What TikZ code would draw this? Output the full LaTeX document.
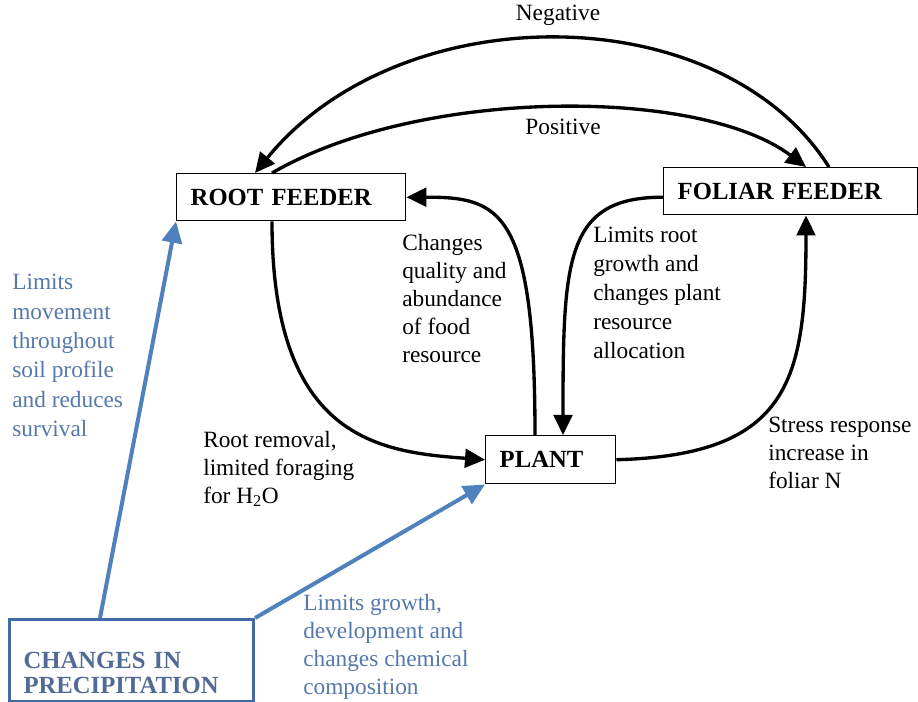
\documentclass[tikz,border=0pt]{standalone}
\usepackage{fontspec}
\setmainfont{Liberation Serif}
\usetikzlibrary{positioning}
\usetikzlibrary{arrows.meta}
\usetikzlibrary{calc}
\tikzset{>={Triangle[length=15pt,width=14pt]}}
\definecolor{precipline}{RGB}{79,129,189}
\definecolor{precipedge}{RGB}{66,106,166}
\definecolor{precipfont}{RGB}{82,106,150}
\definecolor{notecol}{RGB}{86,120,170}

\begin{document}
\begin{tikzpicture}[x=0.75pt, y=-0.75pt,
    box/.style={draw, line width=1.1pt, anchor=north west, align=left, inner xsep=10.5pt, inner ysep=0pt, font=\bfseries\fontsize{18.5}{18.75}\selectfont},
    note/.style={anchor=north west, align=left, inner sep=0pt, font=\fontsize{17.5}{21}\selectfont},
    bluenote/.style={note, text=notecol},
    link/.style={->, line width=2.5pt},
    bluelink/.style={-{Triangle[length=16pt,width=15pt]}, line width=3pt, draw=precipline}]
  \useasboundingbox (0,0) rectangle (918,702);
  \node[box, text width=150.75pt, minimum height=35.25pt] (root) at (176,173) {ROOT FEEDER};
  \node[box, text width=169.5pt, minimum height=35.25pt] (foliar) at (663,167) {FOLIAR FEEDER};
  \node[box, text width=76.5pt, minimum height=36pt] (plant) at (485,435) {PLANT};
  \node[box, text width=162pt, inner ysep=6pt, line width=2.3pt, draw=precipedge, text=precipfont] (precip) at (8,618)
    {\rule{0pt}{30.75pt}CHANGES IN\\PRECIPITATION};

  \node[note, anchor=center] (neg) at (558,15) {Negative};
  \node[note, anchor=center] (pos) at (563,127) {Positive};
  \node[note] (food) at (402,234) {Changes\\quality and\\abundance\\of food\\resource};
  \node[note, font=\fontsize{17.5}{21.75}\selectfont] (alloc) at (593,227) {Limits root\\growth and\\changes plant\\resource\\allocation};
  \node[note] (removal) at (203,431) {Root removal,\\limited foraging\\for H\textsubscript{2}O};
  \node[note] (stress) at (768,417) {Stress response\\increase in\\foliar N};
  \node[bluenote, font=\fontsize{17.5}{22}\selectfont] (survival) at (12,274) {Limits\\movement\\throughout\\soil profile\\and reduces\\survival};
  \node[bluenote] (growth) at (303,594) {Limits growth,\\development and\\changes chemical\\composition};

  \draw[link] ($(foliar.north west)+(166,0)$) .. controls (720,-5) and (400,-5) .. ($(root.north west)+(79,0)$);
  \draw[link] ($(root.north west)+(96,0)$) .. controls (420,87) and (700,87) .. ($(foliar.north west)+(143,0)$);
  \draw[link] ($(root.south west)+(96,0)$) .. controls (272,440) and (380,452) .. (plant.west);
  \draw[link] ($(plant.north west)+(50,0)$) .. controls (535,210) and (500,197) .. (root.east);
  \draw[link] ($(foliar.west)+(0,6)$) .. controls (565,197) and (563,260) .. ($(plant.north west)+(78,0)$);
  \draw[link] (plant.east) .. controls (790,455) and (806,380) .. ($(foliar.south west)+(143,0)$);
  \draw[bluelink] ($(precip.north west)+(92,0)$) -- (root.south west);
  \draw[bluelink] (precip.north east) -- (plant.south west);
\end{tikzpicture}
\end{document}
